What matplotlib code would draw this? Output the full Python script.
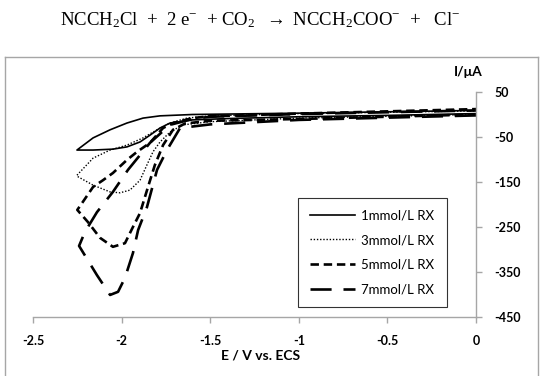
import matplotlib.pyplot as plt
import matplotlib.lines as mlines

plt.rcParams['mathtext.fontset'] = 'custom'
plt.rcParams['mathtext.rm'] = 'Liberation Serif'
plt.rcParams['mathtext.it'] = 'Liberation Serif:italic'
plt.rcParams['axes.unicode_minus'] = False

# 1 mmol/L: forward sweep (0 -> vertex), then return (vertex -> 0)
e1_fwd = [0, -0.5, -1.0, -1.4, -1.6, -1.727, -1.783, -1.84, -1.896, -1.97, -2.049, -2.161, -2.252]
i1_fwd = [2, -2, -5, -9, -12, -19, -30, -46, -61, -72, -77, -79, -79]
e1_ret = [-2.252, -2.161, -2.065, -1.97, -1.879, -1.783, -1.6, -1.0, -0.5, 0]
i1_ret = [-79, -52, -34, -19, -8, -3, 0, 3, 6, 9]

# 3 mmol/L
e3_fwd = [0, -0.5, -1.0, -1.5, -1.654, -1.727, -1.783, -1.823, -1.857, -1.896, -1.953, -2.009, -2.065, -2.161, -2.252]
i3_fwd = [0, -4, -8, -16, -23, -39, -61, -83, -112, -146, -168, -174, -172, -157, -137]
e3_ret = [-2.252, -2.161, -2.065, -1.97, -1.879, -1.80, -1.727, -1.631, -1.5, -1.0, -0.5, 0]
i3_ret = [-135, -97, -79, -68, -52, -34, -19, -8, -3, 2, 5, 8]

# 5 mmol/L
e5_fwd = [0, -0.5, -1.0, -1.5, -1.642, -1.71, -1.766, -1.812, -1.851, -1.896, -1.936, -1.981, -2.049, -2.122, -2.19, -2.25]
i5_fwd = [0, -5, -10, -14, -20, -34, -68, -112, -161, -219, -250, -286, -294, -274, -239, -212]
e5_ret = [-2.25, -2.22, -2.161, -2.105, -2.049, -1.97, -1.913, -1.84, -1.766, -1.71, -1.6, -1.5, -1.0, -0.5, 0]
i5_ret = [-212, -195, -161, -146, -130, -101, -83, -63, -30, -19, -8, -4, 2, 7, 12]

# 7 mmol/L
e7_fwd = [0, -0.5, -1.0, -1.5, -1.67, -1.744, -1.80, -1.857, -1.907, -1.936, -1.981, -2.02, -2.065, -2.139, -2.24]
i7_fwd = [-2, -7, -12, -22, -30, -79, -123, -206, -257, -308, -363, -394, -401, -357, -292]
e7_ret = [-2.24, -2.207, -2.139, -2.049, -1.964, -1.84, -1.727, -1.6, -1.5, -1.0, -0.5, 0]
i7_ret = [-292, -261, -217, -172, -123, -63, -23, -10, -5, 1, 5, 9]

labels = ["1mmol/L RX", "3mmol/L RX", "5mmol/L RX", "7mmol/L RX"]
xticks = [-2.5, -2, -1.5, -1, -0.5, 0]
xtick_labels = ["-2.5", "-2", "-1.5", "-1", "-0.5", "0"]
yticks = [50, -50, -150, -250, -350, -450]
ytick_labels = ["50", "-50", "-150", "-250", "-350", "-450"]

styles = [
    dict(lw=1.2, ls='-'),
    dict(lw=1.0, ls=(0, (1, 1.3))),
    dict(lw=1.9, ls=(0, (3.2, 1.8))),
    dict(lw=1.9, ls=(0, (8, 4.5))),
]

fig = plt.figure(figsize=(5.49, 3.76), dpi=100)
ax = fig.add_axes([33/549, 1-317/376, (476-33)/549, (317-92)/376])

series = [(e1_fwd + e1_ret, i1_fwd + i1_ret),
          (e3_fwd + e3_ret, i3_fwd + i3_ret),
          (e5_fwd + e5_ret, i5_fwd + i5_ret),
          (e7_fwd + e7_ret, i7_fwd + i7_ret)]
for (e, i), st, lab in zip(series, styles, labels):
    ax.plot(e, i, color='black', label=lab, solid_joinstyle='round',
            dash_capstyle='butt', **st)

ax.set_xlim(-2.5, 0)
ax.set_ylim(-450, 50)
for s in ['left', 'top']:
    ax.spines[s].set_visible(False)
for s in ['right', 'bottom']:
    ax.spines[s].set_color('#a6a6a6')
    ax.spines[s].set_linewidth(1.0)
ax.yaxis.tick_right()
ax.set_xticks(xticks)
ax.set_xticklabels(xtick_labels)
ax.set_yticks(yticks)
ax.set_yticklabels(ytick_labels)
ax.tick_params(axis='both', color='#a6a6a6', length=4, width=1.0)
ax.tick_params(axis='x', pad=9)
ax.tick_params(axis='y', pad=9)
for t in ax.get_xticklabels() + ax.get_yticklabels():
    t.set_fontfamily('Lato')
    t.set_fontweight('bold')
    t.set_fontsize(9)

fig.text(261/549, 1-355/376, "E / V vs. ECS", ha='center', va='center',
         fontfamily='Lato', fontweight='bold', fontsize=10)
fig.text(468/549, 1-72/376, "I/\u03bcA", ha='center', va='center',
         fontfamily='Lato', fontweight='bold', fontsize=10)

handles = [mlines.Line2D([], [], color='black', **st) for st in styles]
leg = ax.legend(handles, labels, loc='lower left', bbox_to_anchor=(298/549, 1-307/376, (447-298)/549, (307-197)/376),
                bbox_transform=fig.transFigure, mode='expand', frameon=True, fancybox=False,
                edgecolor='black', handlelength=3.4, handletextpad=0.5, labelspacing=0.95,
                borderpad=0.9, borderaxespad=0, prop={'family': 'Lato', 'size': 9.5})
leg.get_frame().set_linewidth(0.8)

# outer frame
fc = '#a6a6a6'
fig.add_artist(mlines.Line2D([5/549, 5/549], [0, 1-57/376], color=fc, lw=1.0))
fig.add_artist(mlines.Line2D([5/549, 538/549], [1-57/376, 1-57/376], color=fc, lw=1.0))
fig.add_artist(mlines.Line2D([538/549, 538/549], [0, 1-57/376], color=fc, lw=1.0))

fig.text(260/549, 1-20/376,
         r"NCCH$_2$Cl  +  2 e$^{-}$  + CO$_2$  $\rightarrow$ NCCH$_2$COO$^{-}$  +   Cl$^{-}$",
         ha='center', va='center', fontfamily='Liberation Serif', fontsize=13.5)

fig.savefig("out.png", dpi=100)
